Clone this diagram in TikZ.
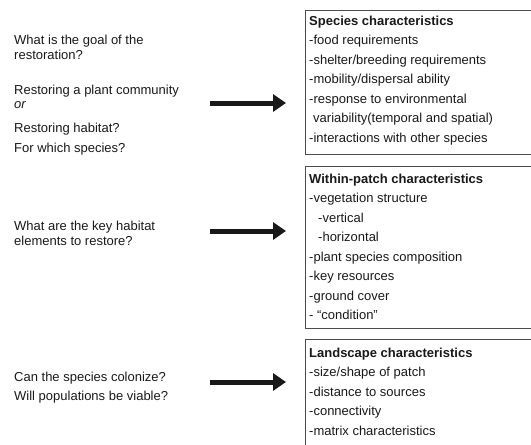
\documentclass[tikz,border=0pt]{standalone}
\usepackage{fontspec}
\setmainfont{Liberation Sans}
\usetikzlibrary{arrows.meta}
\begin{document}
\begin{tikzpicture}[x=1pt,y=-1pt,
  txt/.style={font=\fontsize{13}{15}\selectfont, anchor=base west, inner sep=0pt, text=black!90},
  boxframe/.style={draw=black!70, line width=0.9pt, anchor=north west, inner sep=0pt},
  bigarrow/.style={line width=5pt, black!90, -{Triangle[length=13pt,width=17pt]}}
]
\useasboundingbox (0,0) rectangle (531,445);
% left questions
\node[txt] (q1a) at (14,44) {What is the goal of the};
\node[txt] (q1b) at (14,59) {restoration?};
\node[txt] (q1c) at (14,94) {Restoring a plant community};
\node[txt] (q1d) at (14,108.5) {\itshape or};
\node[txt] (q1e) at (14,132.5) {Restoring habitat?};
\node[txt] (q1f) at (14,152.5) {For which species?};
\node[txt] (q2a) at (14,230.5) {What are the key habitat};
\node[txt] (q2b) at (14,245.5) {elements to restore?};
\node[txt] (q3a) at (14,381) {Can the species colonize?};
\node[txt] (q3b) at (14,400) {Will populations be viable?};
% boxes
\node[boxframe, minimum width=230pt, minimum height=144pt] (box1) at (305,10) {};
\node[boxframe, minimum width=230pt, minimum height=162pt] (box2) at (305,166) {};
\node[boxframe, minimum width=230pt, minimum height=130pt] (box3) at (305,339) {};
% box 1 text
\node[txt] (b1t) at (309,25) {\bfseries Species characteristics};
\node[txt] (b1a) at (309,44.5) {-food requirements};
\node[txt] (b1b) at (309,64) {-shelter/breeding requirements};
\node[txt] (b1c) at (309,83.5) {-mobility/dispersal ability};
\node[txt] (b1d) at (309,103) {-response to environmental};
\node[txt] (b1e) at (313,122.5) {variability(temporal and spatial)};
\node[txt] (b1f) at (309,142) {-interactions with other species};
% box 2 text
\node[txt] (b2t) at (309,183) {\bfseries Within-patch characteristics};
\node[txt] (b2a) at (309,202.5) {-vegetation structure};
\node[txt] (b2b) at (318,222) {-vertical};
\node[txt] (b2c) at (318,241.5) {-horizontal};
\node[txt] (b2d) at (309,261) {-plant species composition};
\node[txt] (b2e) at (309,280.5) {-key resources};
\node[txt] (b2f) at (309,300) {-ground cover};
\node[txt] (b2g) at (309,319.5) {- “condition”};
% box 3 text
\node[txt] (b3t) at (309,357) {\bfseries Landscape characteristics};
\node[txt] (b3a) at (309,376.5) {-size/shape of patch};
\node[txt] (b3b) at (309,396) {-distance to sources};
\node[txt] (b3c) at (309,415.5) {-connectivity};
\node[txt] (b3d) at (309,435) {-matrix characteristics};
% arrows
\coordinate (a1s) at (210,103);
\coordinate (a1e) at (286,103);
\coordinate (a2s) at (210,231);
\coordinate (a2e) at (286,231);
\coordinate (a3s) at (210,382);
\coordinate (a3e) at (286,382);
\draw[bigarrow] (a1s) -- (a1e);
\draw[bigarrow] (a2s) -- (a2e);
\draw[bigarrow] (a3s) -- (a3e);
\end{tikzpicture}
\end{document}
